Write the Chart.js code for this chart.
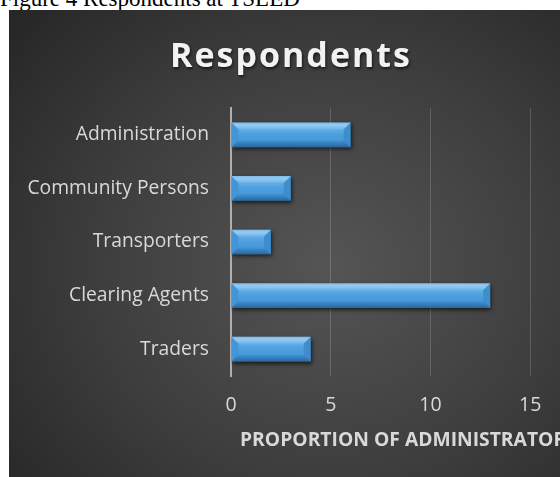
<!DOCTYPE html>
<html>
<head>
<meta charset="utf-8">
<script src="https://cdn.jsdelivr.net/npm/chart.js@4/dist/chart.umd.min.js"></script>
<style>
    html, body {
        margin: 0;
        padding: 0;
        background: #ffffff;
        width: 560px;
        height: 477px;
        overflow: hidden;
        position: relative;
    }
    .caption {
        position: absolute;
        left: 0;
        top: -13px;
        font-family: "Liberation Serif", "Times New Roman", serif;
        font-size: 23px;
        line-height: 23px;
        color: #000;
        white-space: nowrap;
    }
    .panel {
        position: absolute;
        left: 9px;
        top: 10px;
        width: 551px;
        height: 467px;
        overflow: hidden;
        background: radial-gradient(ellipse 75% 80% at 58% 55%, #555555 0%, #3e3e3e 55%, #272727 100%);
    }
</style>
</head>
<body>
<div class="caption">Figure 4 Respondents at TSLED</div>
<div class="panel">
    <canvas id="chart_1" width="650" height="467"></canvas>
</div>
<script>
// data
var categories = ["Administration", "Community Persons", "Transporters", "Clearing Agents", "Traders"];
var respondents = [6, 3, 2, 13, 4];
var xTicks = [0, 5, 10, 15, 20];

// chart heading (letter spaced) and the value axis title
var headingPlugin = {
    id: "heading",
    afterDraw: function(chart) {
        var ctx = chart.ctx;
        ctx.save();
        ctx.font = "bold 34px 'Open Sans'";
        ctx.letterSpacing = "2px";
        ctx.textAlign = "center";
        ctx.textBaseline = "middle";
        ctx.fillStyle = "#f2f2f2";
        ctx.shadowColor = "rgba(0,0,0,0.6)";
        ctx.shadowBlur = 3;
        ctx.shadowOffsetX = 1;
        ctx.shadowOffsetY = 2;
        ctx.fillText("Respondents", 282, 47);
        ctx.restore();

        ctx.save();
        ctx.font = "bold 19.3px 'Open Sans'";
        ctx.textAlign = "left";
        ctx.textBaseline = "middle";
        ctx.fillStyle = "#d9d9d9";
        ctx.fillText("PROPORTION OF ADMINISTRATORS", chart.chartArea.left + 9, 431);
        ctx.restore();
    }
};

// drop shadow under bars + bevel shading on top of them
var bevelPlugin = {
    id: "bevel",
    beforeDatasetDraw: function(chart) {
        var ctx = chart.ctx;
        ctx.save();
        ctx.shadowColor = "rgba(0,0,0,0.65)";
        ctx.shadowBlur = 4;
        ctx.shadowOffsetX = 1;
        ctx.shadowOffsetY = 2;
    },
    afterDatasetDraw: function(chart, args) {
        var ctx = chart.ctx;
        ctx.restore();
        args.meta.data.forEach(function(bar) {
            var p = bar.getProps(["x", "y", "base", "height"], true);
            var L = Math.min(p.base, p.x), R = Math.max(p.base, p.x);
            var T = p.y - p.height / 2, B = p.y + p.height / 2;
            var b = Math.min(7, p.height / 3, (R - L) / 2);
            function poly(pts, fill) {
                ctx.beginPath();
                ctx.moveTo(pts[0][0], pts[0][1]);
                for (var i = 1; i < pts.length; i++) ctx.lineTo(pts[i][0], pts[i][1]);
                ctx.closePath();
                ctx.fillStyle = fill;
                ctx.fill();
            }
            ctx.save();
            // face
            var g = ctx.createLinearGradient(0, T + b, 0, B - b);
            g.addColorStop(0, "rgba(255,255,255,0.12)");
            g.addColorStop(1, "rgba(0,0,0,0.04)");
            poly([[L + b, T + b], [R - b, T + b], [R - b, B - b], [L + b, B - b]], g);
            // top
            var gt = ctx.createLinearGradient(0, T, 0, T + b);
            gt.addColorStop(0, "rgba(255,255,255,0.30)");
            gt.addColorStop(0.4, "rgba(255,255,255,0.42)");
            gt.addColorStop(1, "rgba(255,255,255,0.18)");
            poly([[L, T], [R, T], [R - b, T + b], [L + b, T + b]], gt);
            // left and right ends
            poly([[L, T], [L + b, T + b], [L + b, B - b], [L, B]], "rgba(0,40,90,0.10)");
            poly([[R, T], [R - b, T + b], [R - b, B - b], [R, B]], "rgba(0,30,70,0.16)");
            // bottom
            var gb = ctx.createLinearGradient(0, B - b, 0, B);
            gb.addColorStop(0, "rgba(0,30,70,0.10)");
            gb.addColorStop(1, "rgba(0,30,70,0.45)");
            poly([[L, B], [R, B], [R - b, B - b], [L + b, B - b]], gb);
            ctx.restore();
        });
    }
};

new Chart(document.getElementById("chart_1"),
    {
        type: "bar",
        data: {
            labels: categories,
            datasets: [
                {
                    label: "Respondents",
                    data: respondents,
                    backgroundColor: "#4aa2e6",
                    borderWidth: 0,
                    categoryPercentage: 1,
                    barPercentage: 0.46
                }
            ]
        },
        options: {
            indexAxis: "y",
            responsive: false,
            animation: false,
            layout: {
                padding: { top: 98, right: 28, left: 0, bottom: 0 }
            },
            plugins: {
                legend: { display: false },
                tooltip: { enabled: false }
            },
            scales: {
                x: {
                    min: 0,
                    max: 20,
                    afterFit: function(scale) { scale.height = 101; },
                    afterBuildTicks: function(scale) {
                        scale.ticks = xTicks.map(function(v) { return { value: v }; });
                    },
                    grid: {
                        color: "rgba(255,255,255,0.17)",
                        lineWidth: 1,
                        drawTicks: false
                    },
                    border: { display: false },
                    ticks: {
                        color: "#d9d9d9",
                        padding: 18,
                        font: { family: "'Open Sans'", size: 19.5 }
                    }
                },
                y: {
                    afterFit: function(scale) { scale.width = 222; },
                    grid: { display: false, drawTicks: false },
                    border: { display: true, color: "#b0b0b0", width: 2 },
                    ticks: {
                        color: "#d9d9d9",
                        padding: 22,
                        font: { family: "'Open Sans'", size: 19.3 }
                    }
                }
            }
        },
        plugins: [headingPlugin, bevelPlugin]
    });
</script>
</body>
</html>
